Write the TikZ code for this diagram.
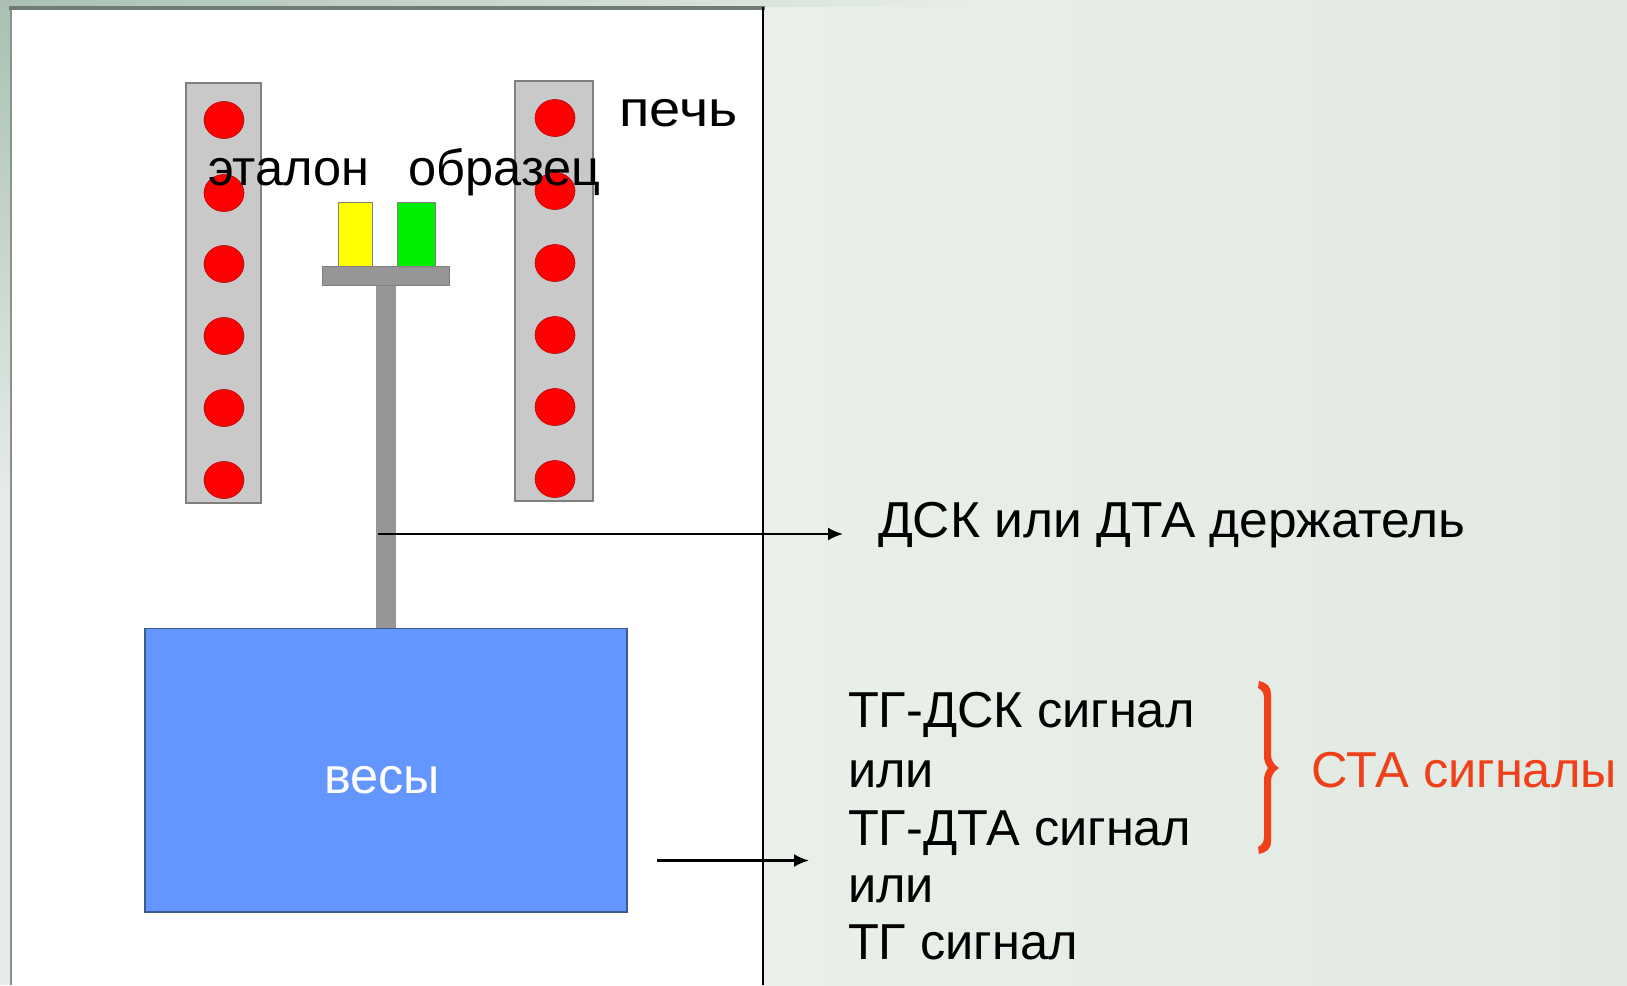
\documentclass[tikz,border=0pt]{standalone}
\usepackage{fontspec}
\setmainfont{Liberation Sans}
\usetikzlibrary{arrows.meta,shapes.geometric}
\definecolor{bgl}{HTML}{E9EFE9}
\definecolor{bgr}{HTML}{E2E9E3}
\definecolor{bgtop}{HTML}{A9C0B2}
\definecolor{bgmid}{HTML}{DCE6DF}
\definecolor{leftlow}{HTML}{E6ECE8}
\definecolor{barfill}{HTML}{C9C9C9}
\definecolor{baredge}{HTML}{808080}
\definecolor{stemfill}{HTML}{969696}
\definecolor{blueface}{HTML}{6496FF}
\definecolor{blueedge}{HTML}{3A5A90}
\definecolor{signalred}{HTML}{F0401A}
\definecolor{pureyellow}{HTML}{FFFF00}
\definecolor{puregreen}{HTML}{00EE00}
\definecolor{purered}{HTML}{FF0000}
\definecolor{topline}{HTML}{6F7B74}
\definecolor{leftline}{HTML}{8A928D}
\tikzset{
  rectbox/.style={rectangle,inner sep=0pt,outer sep=0pt},
  barbox/.style={rectbox,fill=barfill,draw=baredge,line width=1.2bp},
  heater/.style={ellipse,inner sep=0pt,outer sep=0pt,fill=purered,draw=purered!75!black,line width=.6bp,minimum width=40bp,minimum height=37bp},
  lab/.style={anchor=base west,inner sep=0pt,outer sep=0pt,font=\fontsize{50.5bp}{50.5bp}\selectfont,text=black,transform shape},
  conn/.style={line width=2.2bp,draw=black,-{Latex[length=15bp,width=13bp]}},
}
\begin{document}
\begin{tikzpicture}[x=1bp,y=-1bp]
\useasboundingbox (0,0) rectangle (1627,985);
% background
\shade[left color=bgl,right color=bgr] (763,0) rectangle (1627,985);
\shade[left color=bgtop,right color=bgl] (0,0) rectangle (1000,6);
\shade[top color=bgtop,bottom color=leftlow] (0,0) rectangle (10,500);
\fill[leftlow] (0,500) rectangle (10,985);
% white panel
\fill[white] (11,8) rectangle (763,985);
\draw[leftline,line width=2bp] (11,985) -- (11,8);
\draw[topline,line width=3.5bp] (9,8) -- (765,8);
\draw[black,line width=2.8bp] (763,7) -- (763,985);
% bars
\node[barbox,minimum width=75bp,minimum height=420bp] (lbar) at (223.5,293) {};
\node[barbox,minimum width=78bp,minimum height=420bp] (rbar) at (554,291) {};
% heaters
\foreach \n/\y in {1/120,2/193,3/264,4/336,5/408,6/480}
  \node[heater] (lh\n) at (224,\y) {};
\foreach \n/\y in {1/118,2/191,3/263,4/335,5/407,6/479}
  \node[heater] (rh\n) at (555,\y) {};
% sample holder
\node[rectbox,fill=pureyellow,draw=baredge,line width=.8bp,minimum width=34.5bp,minimum height=65bp] (ref) at (355.2,234.5) {};
\node[rectbox,fill=puregreen,draw=baredge,line width=.8bp,minimum width=37.5bp,minimum height=65bp] (smp) at (416.2,234.5) {};
\node[rectbox,fill=stemfill,minimum width=20bp,minimum height=344bp] (stem) at (386,456) {};
\node[rectbox,fill=stemfill,draw=baredge,line width=1bp,minimum width=127.5bp,minimum height=18.5bp] (plate) at (386.2,276.2) {};
% balance
\node[rectbox,fill=blueface,draw=blueedge,line width=1.2bp,minimum width=482bp,minimum height=283.5bp] (bal) at (386,770.2) {};
% labels
\node[lab,xscale=1.11] (pech) at (619.5,126) {печь};
\node[lab] (etal) at (208,185) {эталон};
\node[lab] (obr) at (408.5,185) {образец};
\node[lab,text=white] (ves) at (324,793) {весы};
\node[lab,xscale=1.02] (hold) at (878,537) {ДСК или ДТА держатель};
\node[lab] (s1) at (848,727) {ТГ-ДСК сигнал};
\node[lab] (s2) at (848,787) {или};
\node[lab] (s3) at (848,845) {ТГ-ДТА сигнал};
\node[lab] (s4) at (848,902) {или};
\node[lab] (s5) at (848,959) {ТГ сигнал};
\node[lab,text=signalred] (sta) at (1311.5,787) {СТА сигналы};
% connectors
\coordinate (a1s) at (378,534);
\coordinate (a1e) at (843,534);
\coordinate (a2s) at (657,860.5);
\coordinate (a2e) at (809,860.5);
\draw[conn] (a1s) -- (a1e);
\draw[conn] (a2s) -- (a2e);
% brace
\fill[signalred] (1259,681) .. controls (1267,683) and (1271,686) .. (1271,695)
  -- (1271,755) .. controls (1271,760) and (1274,765) .. (1279,768)
  .. controls (1274,771) and (1271,776) .. (1271,781)
  -- (1271,841) .. controls (1271,849) and (1267,852) .. (1259,854)
  -- (1258,847) .. controls (1262,845) and (1264,842) .. (1264,837)
  -- (1264,779) .. controls (1264,775) and (1266,771) .. (1268,768)
  .. controls (1266,765) and (1264,761) .. (1264,757)
  -- (1264,698) .. controls (1264,693) and (1262,690) .. (1258,688) -- cycle;
\end{tikzpicture}
\end{document}
